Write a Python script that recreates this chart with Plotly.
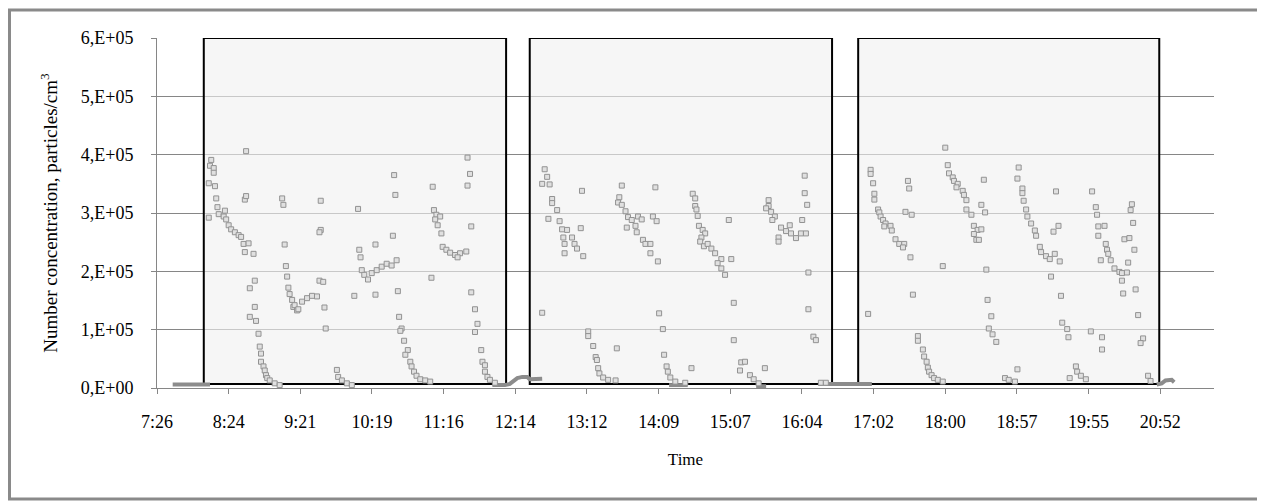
import plotly.graph_objects as go

def to_min(s):
    if s is None:
        return None
    h, m = s.split(":")
    return int(h) * 60 + int(m)

# ---------------- data ----------------
s1_time = ["8:10","8:09","8:12","8:12","8:08","8:13","8:08","8:14","8:15","8:16","8:21","8:20","8:22","8:24","8:26","8:29","8:32","8:34","8:36","8:40","8:37","8:44","8:37","8:38","8:38",
           "8:45","8:41","8:45","8:41","8:46","8:48","8:49","8:50","8:50","8:52","8:53","8:54","8:55","8:57","9:01","9:05",
           "9:07","9:08","9:09","9:10","9:11","9:12","9:13","9:15","9:16","9:17","9:19","9:20","9:23","9:27","9:31","9:35","9:38","9:38","9:37","9:37","9:40","9:41","9:42",
           "9:51","9:52","9:55","9:59","10:03",
           "10:08","10:09","10:10","10:05","10:11","10:13","10:16","10:19","10:23","10:27","10:31","10:35","10:39","10:22","10:22","10:36","10:37","10:38","10:40","10:41","10:43","10:42","10:45","10:48","10:46","10:50","10:51","10:53","10:55","10:58","11:02","11:06",
           "11:08","11:09","11:11","11:14","11:10","11:12","11:15","11:16","11:19","11:22","11:26","11:30","11:35","11:28","11:07",
           "11:36","11:38","11:36","11:39","11:39","11:42","11:44","11:42","11:47","11:48","11:50","11:50","11:52","11:54","11:58"]
s1_conc = [3.91e5,3.81e5,3.77e5,3.69e5,3.51e5,3.46e5,2.92e5,3.25e5,3.10e5,2.98e5,3.04e5,2.94e5,2.89e5,2.79e5,2.72e5,2.67e5,2.62e5,2.59e5,2.47e5,2.48e5,2.33e5,2.30e5,3.23e5,3.29e5,4.06e5,
           1.84e5,1.71e5,1.39e5,1.22e5,1.15e5,0.93e5,0.71e5,0.59e5,0.45e5,0.37e5,0.30e5,0.22e5,0.17e5,0.13e5,0.08e5,0.05e5,
           3.25e5,3.14e5,2.46e5,2.09e5,1.91e5,1.72e5,1.61e5,1.51e5,1.39e5,1.42e5,1.33e5,1.35e5,1.48e5,1.54e5,1.58e5,1.57e5,3.21e5,2.71e5,2.67e5,1.84e5,1.82e5,1.38e5,1.02e5,
           0.31e5,0.19e5,0.13e5,0.08e5,0.05e5,
           3.07e5,2.37e5,2.24e5,1.58e5,2.02e5,1.94e5,1.86e5,1.97e5,2.02e5,2.08e5,2.13e5,2.10e5,2.19e5,1.60e5,2.46e5,2.61e5,3.65e5,3.31e5,1.66e5,1.22e5,1.02e5,0.98e5,0.81e5,0.65e5,0.57e5,0.45e5,0.37e5,0.28e5,0.21e5,0.15e5,0.13e5,0.11e5,
           3.45e5,3.05e5,2.97e5,2.94e5,2.89e5,2.79e5,2.65e5,2.42e5,2.37e5,2.32e5,2.28e5,2.31e5,2.34e5,2.24e5,1.89e5,
           3.95e5,3.67e5,3.47e5,2.77e5,1.64e5,1.35e5,1.10e5,0.96e5,0.65e5,0.45e5,0.39e5,0.28e5,0.19e5,0.14e5,0.09e5]

s2_time = ["12:38","12:40","12:36","12:42","12:44","12:44","12:48","12:41","12:50","12:52","12:56","12:53","13:00","12:54","13:02","13:04","12:54","13:09","13:08","13:07","12:36",
           "13:13","13:13","13:17","13:19","13:20","13:21","13:22","13:25","13:29","13:35","13:36",
           "13:40","13:38","13:37","13:40","13:43","13:45","13:48","13:44","13:51","13:53","13:56","13:52","13:57","13:59","14:03","14:03","14:07","14:05","14:08","14:09","14:10","14:13","14:14","14:16","14:17","14:19","14:23","14:31","14:36",
           "14:37","14:39","14:39","14:40","14:41","14:42","14:45","14:47","14:44","14:43","14:46","14:49","14:52","14:55","15:00","14:57","15:08","15:00","15:03","15:06","15:10","15:10","15:16","15:19","15:15","15:23","15:26","15:30","15:35",
           "15:38","15:38","15:36","15:40","15:43","15:41","15:48","15:55","15:52","15:46","15:46","15:56","16:00","16:04","16:08","16:05","16:07","16:07","16:09","16:10","16:10","16:14","16:16","16:20","16:24"]
s2_conc = [3.75e5,3.62e5,3.50e5,3.49e5,3.24e5,3.17e5,3.05e5,2.90e5,2.86e5,2.72e5,2.71e5,2.58e5,2.58e5,2.47e5,2.47e5,2.39e5,2.31e5,2.26e5,3.38e5,2.74e5,1.29e5,
           0.97e5,0.89e5,0.72e5,0.53e5,0.48e5,0.34e5,0.25e5,0.18e5,0.14e5,0.13e5,0.68e5,
           3.47e5,3.27e5,3.18e5,3.14e5,3.03e5,2.93e5,2.88e5,2.75e5,2.78e5,2.94e5,2.89e5,2.67e5,2.54e5,2.47e5,2.47e5,2.31e5,3.44e5,2.94e5,2.86e5,2.17e5,1.28e5,1.01e5,0.57e5,0.37e5,0.28e5,0.18e5,0.11e5,0.09e5,0.34e5,
           3.33e5,3.25e5,3.12e5,3.06e5,2.95e5,2.78e5,2.71e5,2.65e5,2.58e5,2.51e5,2.43e5,2.47e5,2.39e5,2.31e5,2.21e5,2.14e5,2.21e5,2.05e5,1.94e5,2.88e5,1.46e5,0.82e5,0.44e5,0.45e5,0.30e5,0.22e5,0.15e5,0.08e5,0.34e5,
           3.22e5,3.12e5,3.08e5,3.02e5,2.94e5,2.88e5,2.75e5,2.79e5,2.69e5,2.58e5,2.51e5,2.65e5,2.57e5,2.65e5,2.65e5,2.88e5,3.34e5,3.64e5,3.14e5,1.98e5,1.35e5,0.88e5,0.82e5,0.09e5,0.09e5]

s3_time = ["17:00","17:00","17:02","17:03","17:03","17:06","17:07","17:08","17:10","17:12","17:16","17:17","17:11","17:20","17:23","17:27","17:26","17:32","16:58","17:30","17:31","17:28","17:33","17:34","17:58",
           "17:38","17:38","17:42","17:43","17:45","17:46","17:47","17:49","17:51","17:54","17:58",
           "18:00","18:02","18:03","18:06","18:07","18:10","18:09","18:14","18:15","18:17","18:17","18:21","18:23","18:26","18:23","18:29","18:25","18:27","18:31","18:29","18:32","18:33","18:34","18:37","18:35","18:38","18:41","18:58","18:48","18:51","18:56",
           "18:59","18:58","19:02","19:02","19:03","19:05","19:06","19:09","19:12","19:13","19:16","19:17","19:21","19:24","19:28","19:32","19:25","19:29","19:31","19:27","19:33","19:34","19:38","19:39","19:45","19:46","19:49","19:53","19:40",
           "19:58","20:01","20:02","20:03","20:08","20:03","20:09","20:10","20:11","20:05","20:13","20:16","20:20","20:22","20:26","20:22","20:23","20:33","20:27","20:32","20:31","20:29","20:30","20:24","20:28","20:35","19:57","20:06","20:06","20:39","20:37","20:43","20:45"]
s3_conc = [3.74e5,3.67e5,3.51e5,3.33e5,3.23e5,3.06e5,3.01e5,2.94e5,2.88e5,2.82e5,2.78e5,2.70e5,2.77e5,2.55e5,2.47e5,2.47e5,2.41e5,2.24e5,1.27e5,3.55e5,3.42e5,3.02e5,2.97e5,1.60e5,2.09e5,
           0.89e5,0.81e5,0.66e5,0.54e5,0.45e5,0.35e5,0.28e5,0.22e5,0.17e5,0.14e5,0.11e5,
           4.12e5,3.82e5,3.68e5,3.61e5,3.55e5,3.50e5,3.44e5,3.38e5,3.31e5,3.22e5,3.06e5,2.97e5,2.78e5,2.71e5,2.64e5,2.72e5,2.54e5,2.54e5,3.57e5,3.14e5,3.01e5,2.03e5,1.51e5,1.23e5,1.02e5,0.92e5,0.79e5,0.32e5,0.17e5,0.14e5,0.11e5,
           3.78e5,3.59e5,3.42e5,3.34e5,3.21e5,3.06e5,2.94e5,2.82e5,2.70e5,2.61e5,2.42e5,2.33e5,2.26e5,2.21e5,2.30e5,2.17e5,1.91e5,3.37e5,2.78e5,2.68e5,1.58e5,1.12e5,1.01e5,0.87e5,0.37e5,0.28e5,0.21e5,0.15e5,0.17e5,
           3.37e5,3.10e5,2.97e5,2.77e5,2.78e5,2.61e5,2.47e5,2.37e5,2.30e5,2.19e5,2.19e5,2.05e5,1.99e5,1.97e5,1.98e5,1.84e5,1.62e5,1.69e5,2.15e5,2.37e5,2.83e5,3.05e5,3.15e5,2.55e5,2.57e5,1.25e5,0.97e5,0.87e5,0.66e5,0.85e5,0.77e5,0.21e5,0.12e5]

# background (between-session) readings, drawn as a thick line
base_time = ["7:39","8:09", None,
             "11:56","12:06","12:10","12:13","12:16","12:20","12:24","12:26","12:30","12:36", None,
             "14:18","14:33", None,
             "15:28","15:36", None,
             "16:18","17:01", None,
             "20:50","20:54","20:57","21:02","21:04"]
base_conc = [6000,6000, None,
             5000,5000,7000,12000,17000,19000,19000,15000,16000,16000, None,
             5000,5000, None,
             3000,3000, None,
             7000,7000, None,
             6000,8000,13000,14000,10000]

# measurement periods (framed boxes)
period_start = ["8:04","12:26","16:50"]
period_end = ["12:07","16:29","20:52"]
period_low, period_high = 7000, 600000

# axes
x_tick_days = [0.31,0.35,0.39,0.43,0.47,0.51,0.55,0.59,0.63,0.67,0.71,0.75,0.79,0.83,0.87]
x_tick_text = ["7:26","8:24","9:21","10:19","11:16","12:14","13:12","14:09","15:07","16:04","17:02","18:00","18:57","19:55","20:52"]
x_range_days = [0.31, 0.90]
y_tick_vals = [0,100000,200000,300000,400000,500000,600000]
y_tick_text = ["0,E+00","1,E+05","2,E+05","3,E+05","4,E+05","5,E+05","6,E+05"]

# ---------------- figure ----------------
FONT = "Liberation Serif, Times New Roman, serif"
GRAY = "#868686"

# the page body adds an 8 px offset; the figure is sized so that page
# coordinates match the target layout
OFF = 8
W, H = 1265 - OFF, 502 - OFF
L, R, T, B = 157 - OFF, 1214 - OFF, 38 - OFF, 388 - OFF

fig = go.Figure()

fig.add_trace(go.Scatter(
    x=[to_min(t) for t in base_time], y=base_conc, mode="lines",
    line=dict(color="#8c8c8c", width=4), connectgaps=False,
    hoverinfo="skip", showlegend=False))

all_time = s1_time + s2_time + s3_time
all_conc = s1_conc + s2_conc + s3_conc
fig.add_trace(go.Scatter(
    x=[to_min(t) for t in all_time], y=all_conc, mode="markers",
    marker=dict(symbol="square", size=5, color="#e0e0e0",
                line=dict(color="#929292", width=1)),
    showlegend=False))

for a, b in zip(period_start, period_end):
    fig.add_shape(type="rect", xref="x", yref="y",
                  x0=to_min(a), x1=to_min(b), y0=period_low, y1=period_high,
                  line=dict(color="black", width=2),
                  fillcolor="rgba(240,240,240,0.62)", layer="between")

# outer frame of the chart
def px_x(p): return (p - L) / (R - L)
def px_y(p): return (B - p) / (B - T)
fig.add_shape(type="rect", xref="paper", yref="paper",
              x0=px_x(1.5), x1=px_x(1262 - OFF), y0=px_y(499 - OFF), y1=px_y(10 - OFF),
              line=dict(color="#8a8a8a", width=3), fillcolor="rgba(0,0,0,0)")

fig.update_layout(
    width=W, height=H, autosize=False,
    margin=dict(l=L, r=W - R, t=T, b=H - B),
    paper_bgcolor="white", plot_bgcolor="white",
    font=dict(family=FONT, size=18, color="black"),
    showlegend=False,
)
fig.update_xaxes(
    range=[d * 1440 for d in x_range_days],
    tickvals=[d * 1440 for d in x_tick_days], ticktext=x_tick_text,
    showgrid=False, zeroline=False, showline=True, linecolor=GRAY, linewidth=1,
    ticks="outside", ticklen=5, tickcolor=GRAY, ticklabelstandoff=12,
    title=dict(text="Time", standoff=22, font=dict(family=FONT, size=17)),
)
fig.update_yaxes(
    range=[0, 600000], tickvals=y_tick_vals, ticktext=y_tick_text,
    showgrid=True, gridcolor=GRAY, gridwidth=1, zeroline=False,
    showline=True, linecolor=GRAY, linewidth=1,
    ticks="outside", ticklen=5, tickcolor=GRAY, ticklabelstandoff=14,
    title=dict(text="Number concentration, particles/cm<sup>3</sup>", standoff=18,
               font=dict(family=FONT, size=19)),
)

fig.write_html("out.html")
